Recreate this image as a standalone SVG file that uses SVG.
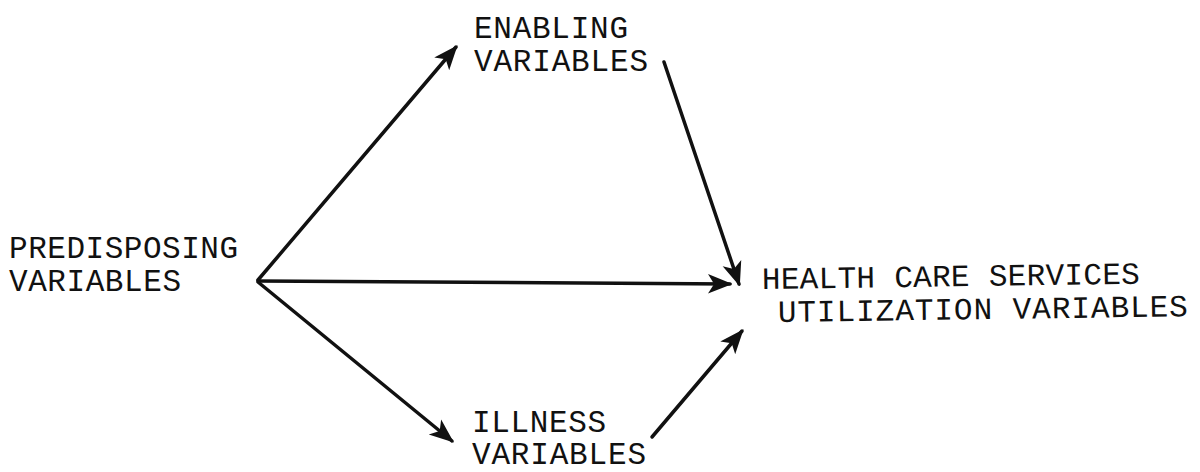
<svg xmlns="http://www.w3.org/2000/svg" width="1200" height="472" viewBox="0 0 1200 472">
<style>
.t{font-family:"Liberation Mono","Courier New",monospace;font-size:31px;fill:#111}
.c{stroke:#111;stroke-width:3.5;fill:none;stroke-linecap:round}
</style>
<defs>
<marker id="ah" viewBox="0 0 20 20" refX="18" refY="10" markerWidth="7" markerHeight="7" markerUnits="strokeWidth" orient="auto">
<path d="M0,2 L20,10 L0,18 L5,10 Z" fill="#111"/>
</marker>
</defs>
<rect width="1200" height="472" fill="#fff"/>
<g id="connectors">
<line class="c" x1="258" y1="280" x2="456" y2="47" marker-end="url(#ah)"/>
<line class="c" x1="258" y1="281" x2="730" y2="284" marker-end="url(#ah)"/>
<line class="c" x1="258" y1="282" x2="452" y2="441" marker-end="url(#ah)"/>
<line class="c" x1="664" y1="62" x2="739" y2="284" marker-end="url(#ah)"/>
<line class="c" x1="652" y1="437" x2="742" y2="331" marker-end="url(#ah)"/>
</g>
<g id="enabling"><text class="t" x="474" y="38" textLength="154" lengthAdjust="spacing">ENABLING</text><text class="t" x="474" y="71" textLength="174" lengthAdjust="spacing">VARIABLES</text></g>
<g id="predisposing"><text class="t" x="9" y="258" textLength="229" lengthAdjust="spacing">PREDISPOSING</text><text class="t" x="9" y="291" textLength="172" lengthAdjust="spacing">VARIABLES</text></g>
<g id="utilization"><text class="t" x="762" y="289" textLength="378" lengthAdjust="spacing" transform="rotate(-0.8 762 289)">HEALTH CARE SERVICES</text><text class="t" x="778" y="322" textLength="410" lengthAdjust="spacing" transform="rotate(-0.8 778 322)">UTILIZATION VARIABLES</text></g>
<g id="illness"><text class="t" x="472" y="432" textLength="134" lengthAdjust="spacing">ILLNESS</text><text class="t" x="472" y="464" textLength="174" lengthAdjust="spacing">VARIABLES</text></g>
</svg>
